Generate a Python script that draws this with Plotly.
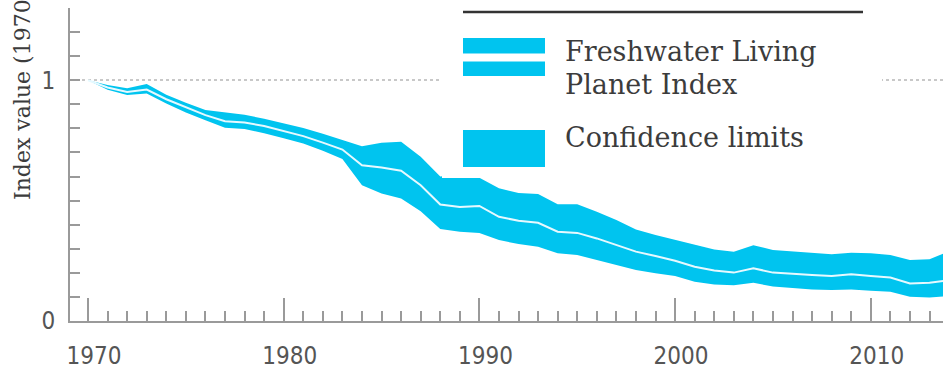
import plotly.graph_objects as go

# Freshwater Living Planet Index, 1970 = 1, with confidence limits
years = list(range(1970, 2015))
index_value = [1.000, 0.970, 0.951, 0.961, 0.921, 0.887, 0.855, 0.830, 0.824, 0.810,
               0.790, 0.768, 0.741, 0.712, 0.647, 0.638, 0.624, 0.564, 0.484, 0.474,
               0.478, 0.433, 0.416, 0.408, 0.371, 0.366, 0.343, 0.315, 0.288, 0.270,
               0.250, 0.225, 0.210, 0.201, 0.219, 0.201, 0.195, 0.191, 0.187, 0.194,
               0.187, 0.181, 0.156, 0.159, 0.170]
upper_limit = [1.000, 0.980, 0.967, 0.984, 0.940, 0.906, 0.876, 0.866, 0.857, 0.840,
               0.822, 0.802, 0.778, 0.753, 0.726, 0.740, 0.744, 0.682, 0.600, 0.610,
               0.595, 0.551, 0.532, 0.527, 0.485, 0.485, 0.454, 0.419, 0.380, 0.357,
               0.336, 0.315, 0.297, 0.288, 0.315, 0.295, 0.288, 0.281, 0.277, 0.283,
               0.281, 0.274, 0.253, 0.256, 0.290]
lower_limit = [1.000, 0.960, 0.939, 0.945, 0.903, 0.866, 0.834, 0.803, 0.797, 0.780,
               0.759, 0.737, 0.707, 0.673, 0.564, 0.530, 0.509, 0.456, 0.382, 0.371,
               0.366, 0.336, 0.320, 0.308, 0.281, 0.274, 0.253, 0.232, 0.212, 0.198,
               0.187, 0.163, 0.152, 0.149, 0.159, 0.143, 0.136, 0.131, 0.129, 0.131,
               0.126, 0.122, 0.101, 0.098, 0.104]

x_ticks = [1970, 1980, 1990, 2000, 2010]
y_ticks = [0, 1]

legend_labels = ["Freshwater Living", "Planet Index", "Confidence limits"]
y_title = "Index value (1970 = 1)"

CYAN = "#00c4ef"
AXIS = "#9a9a9a"
TEXT = "#3c3c3c"
TICKFONT = dict(family="Liberation Sans Narrow, DejaVu Sans Condensed, sans-serif",
                size=24, color="#555555")
SERIF = "DejaVu Serif, Liberation Serif, serif"

W, H = 943, 369
L, R, T, B = 70, 0, 8, 48
PW, PH = W - L - R, H - T - B


def fx(px):
    """Page pixel column -> paper x."""
    return (px - L) / PW


def fy(py):
    """Page pixel row -> paper y."""
    return (H - B - py) / PH


fig = go.Figure()

# confidence band
fig.add_trace(go.Scatter(x=years, y=upper_limit, mode="lines",
                         line=dict(width=0, color=CYAN), hoverinfo="skip",
                         showlegend=False))
fig.add_trace(go.Scatter(x=years, y=lower_limit, mode="lines",
                         line=dict(width=0, color=CYAN), fill="tonexty",
                         fillcolor=CYAN, showlegend=False))
# index line
fig.add_trace(go.Scatter(x=years, y=index_value, mode="lines",
                         line=dict(width=2, color="#e6f9ff"), showlegend=False))

shapes = [
    # legend panel background
    dict(type="rect", xref="paper", yref="paper", layer="above",
         x0=fx(442), x1=fx(882), y0=fy(178), y1=fy(-2),
         fillcolor="white", line=dict(width=0)),
    # rule across the top of the legend
    dict(type="line", xref="paper", yref="paper", layer="above",
         x0=fx(463), x1=fx(863), y0=fy(12), y1=fy(12),
         line=dict(color="#333333", width=2.5)),
    # index swatch: band split by a white line
    dict(type="rect", xref="paper", yref="paper", layer="above",
         x0=fx(463), x1=fx(545), y0=fy(76), y1=fy(38),
         fillcolor=CYAN, line=dict(width=0)),
    dict(type="rect", xref="paper", yref="paper", layer="above",
         x0=fx(463), x1=fx(545), y0=fy(61.5), y1=fy(53.5),
         fillcolor="white", line=dict(width=0)),
    # confidence swatch
    dict(type="rect", xref="paper", yref="paper", layer="above",
         x0=fx(463), x1=fx(545), y0=fy(167), y1=fy(130),
         fillcolor=CYAN, line=dict(width=0)),
]

annotations = []
for label, cy in zip(legend_labels, [51, 84, 137]):
    annotations.append(dict(text=label, xref="paper", yref="paper",
                            x=fx(563), y=fy(cy), xanchor="left", yanchor="middle",
                            showarrow=False,
                            font=dict(family=SERIF, size=27, color=TEXT)))
annotations.append(dict(text=y_title, xref="paper", yref="paper",
                        x=fx(22), y=fy(72), xanchor="center", yanchor="middle",
                        textangle=-90, showarrow=False,
                        font=dict(family=SERIF, size=22, color=TEXT)))

fig.update_layout(
    width=W, height=H,
    margin=dict(l=L, r=R, t=T, b=B, pad=0, autoexpand=False),
    paper_bgcolor="white", plot_bgcolor="white",
    shapes=shapes, annotations=annotations,
    showlegend=False,
)

fig.update_xaxes(
    range=[1969.08, 2013.69], automargin=False,
    tickvals=x_ticks, ticktext=[str(v) for v in x_ticks],
    ticks="inside", ticklen=23, tickwidth=1.5, tickcolor=AXIS,
    minor=dict(dtick=1, tick0=1970, ticks="inside", ticklen=10,
               tickwidth=1.5, tickcolor=AXIS),
    showline=True, linecolor=AXIS, linewidth=2,
    showgrid=False, zeroline=False,
    tickfont=TICKFONT, ticklabelstandoff=12, ticklabelshift=6,
)

fig.update_yaxes(
    range=[0, 1.3], automargin=False,
    tickvals=y_ticks, ticktext=[str(v) for v in y_ticks],
    ticks="inside", ticklen=10, tickwidth=1.5, tickcolor=AXIS,
    minor=dict(dtick=0.1, tick0=0, ticks="inside", ticklen=10,
               tickwidth=1.5, tickcolor=AXIS, showgrid=False),
    showline=True, linecolor=AXIS, linewidth=2,
    showgrid=True, gridcolor="#c8c8c8", gridwidth=1.5, griddash="dot",
    zeroline=False,
    tickfont=TICKFONT, ticklabelstandoff=8,
)

fig.write_html("out.html")
